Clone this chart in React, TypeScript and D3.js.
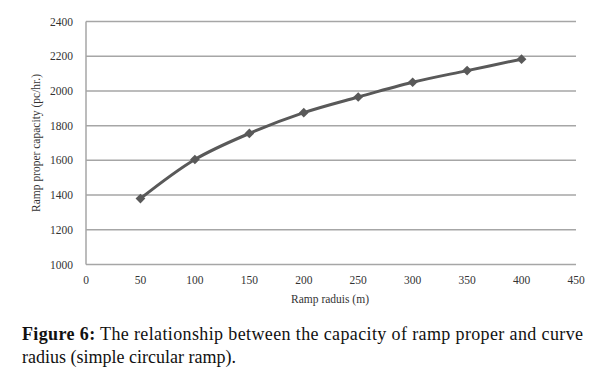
import React from "react";
import * as d3 from "d3";

const radius = [50, 100, 150, 200, 250, 300, 350, 400];
const capacity = [1380, 1605, 1755, 1875, 1965, 2050, 2117, 2183];
const xTicks = [0, 50, 100, 150, 200, 250, 300, 350, 400, 450];
const yTicks = [1000, 1200, 1400, 1600, 1800, 2000, 2200, 2400];

export default function App() {
  const W = 590, H = 390;
  const x = d3.scaleLinear().domain([0, 450]).range([86, 576]);
  const y = d3.scaleLinear().domain([1000, 2400]).range([264.5, 21.5]);
  const pts = radius.map((r, i) => [x(r), y(capacity[i])] as [number, number]);
  const line = d3.line().curve(d3.curveCatmullRom.alpha(0.5))(pts) || "";
  const sym = d3.symbol().type(d3.symbolDiamond2).size(60)() || "";
  const serif = { fontFamily: '"Liberation Serif", "DejaVu Serif", "Times New Roman", serif' };
  return (
    <svg width={W} height={H} style={{ position: "absolute", left: 0, top: 0, background: "#fff" }}>
      <rect width={W} height={H} fill="#fff" />
      {yTicks.map((t) => (
        <g key={t}>
          {t > 1000 && (
            <line x1={86} x2={576} y1={y(t)} y2={y(t)} stroke="#a6a6a6" strokeWidth={1.5} />
          )}
          <text x={73} y={y(t) + 4} textAnchor="end" style={serif} fontSize={11.5} fill="#333">
            {t}
          </text>
        </g>
      ))}
      <line x1={86} x2={576} y1={y(1000)} y2={y(1000)} stroke="#a6a6a6" strokeWidth={1.5} />
      <line x1={86} x2={86} y1={y(2400)} y2={y(1000)} stroke="#a6a6a6" strokeWidth={1.5} />
      {xTicks.map((t) => (
        <text key={t} x={x(t)} y={284} textAnchor="middle" style={serif} fontSize={11.5} fill="#333">
          {t}
        </text>
      ))}
      <text x={330} y={303} textAnchor="middle" style={serif} fontSize={11.5} fill="#333">
        Ramp raduis (m)
      </text>
      <text
        transform={`translate(40,${y(1700)}) rotate(-90)`}
        textAnchor="middle"
        style={serif}
        fontSize={11.5}
        fill="#333"
      >
        Ramp proper capacity (pc/hr.)
      </text>
      <path d={line} fill="none" stroke="#595959" strokeWidth={3} />
      {pts.map((p, i) => (
        <path key={i} d={sym} transform={`translate(${p[0]},${p[1]})`} fill="#595959" />
      ))}
      <text x={22} y={340} style={serif} fontSize={18} fill="#111" textLength={561} lengthAdjust="spacing">
        <tspan fontWeight="bold">Figure 6:</tspan> The relationship between the capacity of ramp proper and curve
      </text>
      <text x={22} y={363} style={serif} fontSize={18} fill="#111">
        radius (simple circular ramp).
      </text>
    </svg>
  );
}
